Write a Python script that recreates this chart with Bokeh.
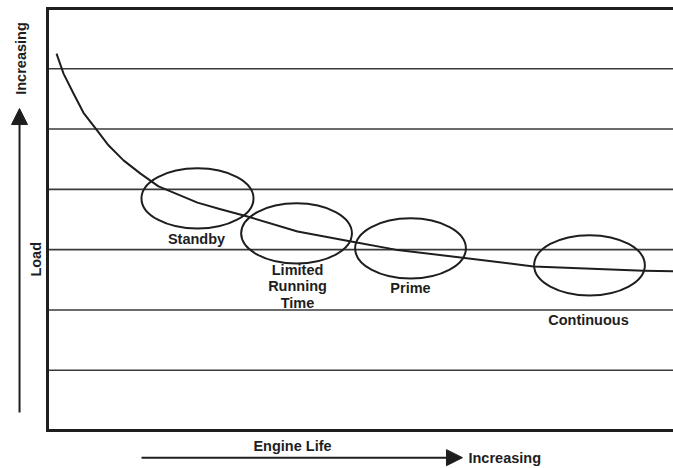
import math
from bokeh.plotting import figure
from bokeh.models import Range1d, Label, Arrow, NormalHead, ColumnDataSource
from bokeh.core.properties import value
from bokeh.embed import file_html
from bokeh.resources import INLINE

# ---- data ----
life = [1.44, 2.56, 4.15, 5.75, 7.67, 9.74, 12.14, 14.86, 17.73, 23.96, 27.64, 31.95,
        39.94, 48.72, 55.59, 65.97, 77.64, 95.21, 100.0]
load = [6.25, 5.92, 5.59, 5.27, 5.01, 4.73, 4.48, 4.26, 4.05, 3.78, 3.67, 3.55,
        3.30, 3.13, 3.00, 2.87, 2.72, 2.65, 2.64]

ratings = ["Standby", "Limited\nRunning\nTime", "Prime", "Continuous"]
zone_x = [23.96, 39.78, 57.99, 86.58]
zone_y = [3.85, 3.27, 3.02, 2.74]
zone_w = [17.9, 17.7, 17.7, 17.7]
zone_h = [1.0, 1.0, 1.0, 1.0]
label_x = [23.8, 39.94, 57.99, 86.42]
label_y = [3.17, 2.39, 2.36, 1.84]

grid_levels = [1, 2, 3, 4, 5, 6]
LIFE_MAX = 100.0
LOAD_MAX = 7.0

FONT_NAME = "Liberation Sans"
INK = "#1e1e1e"

# the plotting area covers the whole canvas; the chart box is drawn inside it
p = figure(width=673, height=468, output_backend="svg", toolbar_location=None,
           x_range=Range1d(-7.51, 100.0), y_range=Range1d(-0.63, 7.132),
           x_axis_location=None, y_axis_location=None,
           min_border_left=0, min_border_right=0, min_border_top=0, min_border_bottom=0)
p.outline_line_color = None
p.background_fill_color = "white"
p.border_fill_color = "white"
p.grid.visible = False

# horizontal load levels
p.segment(x0=0, x1=LIFE_MAX, y0=grid_levels, y1=grid_levels,
          line_color="#3a3a3a", line_width=1.6)

# chart box (open on the right)
p.line([LIFE_MAX, 0, 0, LIFE_MAX], [LOAD_MAX, LOAD_MAX, 0, 0],
       line_color=INK, line_width=3, line_join="miter")

# curve
p.line(life, load, line_color=INK, line_width=2, line_join="round")

# rating zones
src = ColumnDataSource(dict(x=zone_x, y=zone_y, w=zone_w, h=zone_h,
                            lx=label_x, ly=label_y, t=ratings))
p.ellipse(x="x", y="y", width="w", height="h", source=src,
          fill_color=None, line_color=INK, line_width=2)
p.text(x="lx", y="ly", text="t", source=src, text_font=value(FONT_NAME), text_font_style="bold",
       text_font_size="14.5px", text_align="center", text_baseline="middle",
       text_color=INK, text_line_height=1.05)


def lab(x, y, text, angle=0.0, align="center"):
    return Label(x=x, y=y, text=text, angle=angle, text_font=FONT_NAME,
                 text_font_style="bold", text_font_size="14.5px",
                 text_align=align, text_baseline="middle", text_color=INK)


# axis titles and arrows
p.add_layout(lab(-1.76, 2.84, "Load", angle=math.pi / 2))
p.add_layout(lab(-4.31, 6.17, "Increasing", angle=math.pi / 2))
p.add_layout(Arrow(end=NormalHead(size=16, fill_color=INK, line_color=INK),
                   x_start=-4.47, y_start=0.30, x_end=-4.47, y_end=5.34,
                   line_color=INK, line_width=2))

p.add_layout(lab(39.14, -0.25, "Engine Life"))
p.add_layout(Arrow(end=NormalHead(size=16, fill_color=INK, line_color=INK),
                   x_start=15.02, y_start=-0.45, x_end=66.29, y_end=-0.45,
                   line_color=INK, line_width=2))
p.add_layout(lab(67.25, -0.45, "Increasing", align="left"))

open("out.html", "w").write(file_html(p, INLINE))
